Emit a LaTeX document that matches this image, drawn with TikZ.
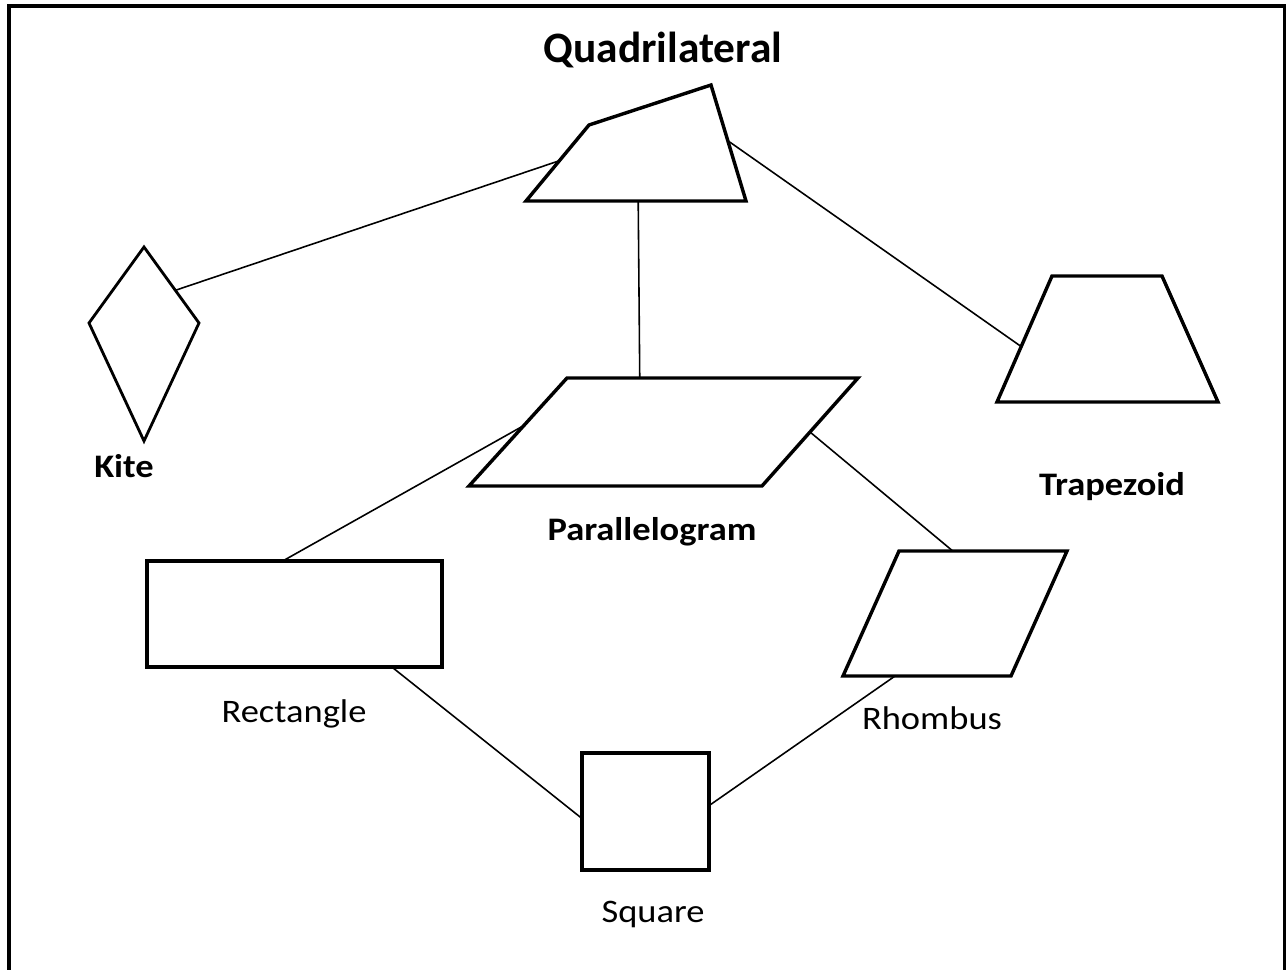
\documentclass[tikz,border=0pt]{standalone}
\usepackage{fontspec}
\setmainfont{Carlito}
\newfontfamily\labelfont{Carlito}[FakeStretch=1.11]
\usetikzlibrary{calc}
\newcommand{\shapelabel}[1]{\fontsize{18.7}{22}\labelfont #1}

\begin{document}
\begin{tikzpicture}[x=0.02cm,y=-0.02cm]
    \tikzset{fig/.style={line width=1.95pt,line join=miter},
      link/.style={line width=0.9pt},
      lbl/.style={anchor=base,inner sep=0pt,font=\shapelabel}}
\useasboundingbox (0,0) rectangle (1286,970);
\draw[line width=1.9pt] (9,970) -- (9,6) -- (1284.5,6) -- (1284.5,970);
\node[anchor=base,inner sep=0pt,font=\fontsize{24.7}{28}\selectfont\bfseries] (title) at (663,62) {Quadrilateral};
% shapes
\coordinate (q1) at (526,201); \coordinate (q2) at (589,125);
\coordinate (q3) at (711,85);  \coordinate (q4) at (746,201);
\draw[fig] (q1) -- (q2) -- (q3) -- (q4) -- cycle;
\coordinate (k1) at (144,247); \coordinate (k2) at (199,323);
\coordinate (k3) at (144,441); \coordinate (k4) at (89,323);
\draw[fig,line width=1.6pt] (k1) -- (k2) -- (k3) -- (k4) -- cycle;
\coordinate (t1) at (1052,276); \coordinate (t2) at (1162,276);
\coordinate (t3) at (1218,402); \coordinate (t4) at (997,402);
\draw[fig] (t1) -- (t2) -- (t3) -- (t4) -- cycle;
\coordinate (p1) at (567,378); \coordinate (p2) at (858,378);
\coordinate (p3) at (762,486); \coordinate (p4) at (469,486);
\draw[fig] (p1) -- (p2) -- (p3) -- (p4) -- cycle;
\coordinate (r1) at (147,561); \coordinate (r2) at (442,561);
\coordinate (r3) at (442,667); \coordinate (r4) at (147,667);
\draw[fig] (r1) -- (r2) -- (r3) -- (r4) -- cycle;
\coordinate (h1) at (899,551); \coordinate (h2) at (1067,551);
\coordinate (h3) at (1011,676); \coordinate (h4) at (843,676);
\draw[fig] (h1) -- (h2) -- (h3) -- (h4) -- cycle;
\coordinate (s1) at (582,753); \coordinate (s2) at (709,753);
\coordinate (s3) at (709,870); \coordinate (s4) at (582,870);
\draw[fig] (s1) -- (s2) -- (s3) -- (s4) -- cycle;
% labels
\node[lbl,font=\shapelabel\bfseries] (kite) at (124,477) {Kite};
\node[lbl,font=\shapelabel\bfseries] (trap) at (1112,495) {Trapezoid};
\node[lbl,font=\shapelabel\bfseries] (para) at (652,540) {Parallelogram};
\node[lbl] (rect) at (294,722) {Rectangle};
\node[lbl] (rhom) at (932,729) {Rhombus};
\node[lbl] (sq) at (653,922) {Square};
% links
\coordinate (qK) at ($(q1)!0.53!(q2)$); \coordinate (kQ) at ($(k1)!0.57!(k2)$);
\coordinate (qT) at ($(q3)!0.48!(q4)$); \coordinate (tQ) at ($(t1)!0.56!(t4)$);
\coordinate (qP) at ($(q1)!0.51!(q4)$); \coordinate (pQ) at ($(p1)!0.25!(p2)$);
\coordinate (pR) at ($(p4)!0.56!(p1)$); \coordinate (rP) at ($(r1)!0.46!(r2)$);
\coordinate (pH) at ($(p2)!0.5!(p3)$);  \coordinate (hP) at ($(h1)!0.32!(h2)$);
\coordinate (rS) at ($(r4)!0.83!(r3)$); \coordinate (sR) at ($(s1)!0.56!(s4)$);
\coordinate (hS) at ($(h4)!0.31!(h3)$); \coordinate (sH) at ($(s2)!0.45!(s3)$);
\draw[link] (qK) -- (kQ);
\draw[link] (qT) -- (tQ);
\draw[link] (qP) -- (pQ);
\draw[link] (pR) -- (rP);
\draw[link] (pH) -- (hP);
\draw[link] (rS) -- (sR);
\draw[link] (hS) -- (sH);
\end{tikzpicture}
\end{document}
